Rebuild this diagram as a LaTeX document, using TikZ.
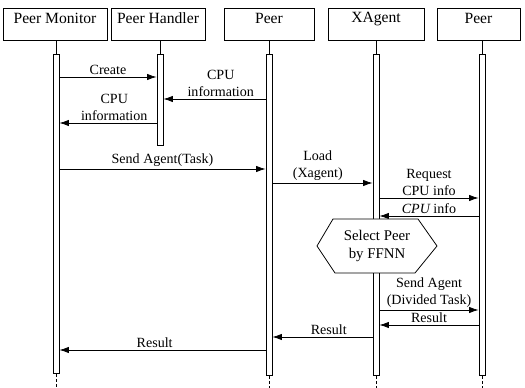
\documentclass[tikz,border=0pt]{standalone}
\usepackage{fontspec}
\setmainfont{Liberation Serif}
\usetikzlibrary{positioning,calc,arrows.meta,fit}

\begin{document}
\begin{tikzpicture}[x=0.0225cm,y=-0.0225cm,
  actor/.style={draw,line width=0.6pt,inner sep=0pt,font=\fontsize{10}{12}\selectfont},
  bar/.style={draw,fill=white,line width=0.5pt,inner sep=0pt},
  life/.style={line width=0.5pt},
  msg/.style={line width=0.5pt,-{Latex[length=6pt,width=4pt]}},
  lbl/.style={font=\fontsize{9}{10.5}\selectfont,align=center,inner sep=1.5pt}]
\useasboundingbox (0,0) rectangle (525,388);
\coordinate (floor) at (0,388);
% ACTORS: header boxes
\node[actor,fit={(3,8) (107,40)}] (pm) {Peer Monitor};
\node[actor,fit={(111,8) (205,40)}] (ph) {Peer Handler};
\node[actor,fit={(224,8) (314,40)}] (peer) {Peer};
\node[actor,fit={(328,8) (424,40)}] (xagent) {XAgent};
\node[actor,fit={(437,8) (520,40)}] (peertwo) {Peer};
% ACTIVATION BARS
\node[bar,fit={(53,54) (59,373)}] (pmbar) {};
\node[bar,fit={(157,54) (163,145)}] (phbar) {};
\node[bar,fit={(266,54) (272,375)}] (peerbar) {};
\node[bar,fit={(373,54) (379,375)}] (xbar) {};
\node[bar,fit={(479,54) (485,375)}] (peertwobar) {};
% LIFELINES: solid above the bars, dashed below (the handler ends with its bar)
\foreach \b/\a in {pmbar/pm,phbar/ph,peerbar/peer,xbar/xagent,peertwobar/peertwo}
  \draw[life] (\b.north) -- (\b.north |- \a.south);
\foreach \b in {pmbar,peerbar,xbar,peertwobar}
  \draw[life,dash pattern=on 2pt off 1.5pt] (\b.south) -- (\b.south |- floor);
% MESSAGES: discovery of CPU information
\draw[msg] (pmbar.east |- 0,77) -- (phbar.west |- 0,77) node[lbl,midway,above] {Create};
\draw[msg] (peerbar.west |- 0,99) -- (phbar.east |- 0,99) node[lbl,midway,above,xshift=4] {CPU\\information};
\draw[msg] (phbar.west |- 0,123) -- (pmbar.east |- 0,123) node[lbl,midway,above,xshift=4] {CPU\\information};
% MESSAGES: agent dispatch
\draw[msg] (pmbar.east |- 0,169) -- (peerbar.west |- 0,169) node[lbl,midway,above] {Send Agent(Task)};
\draw[msg] (peerbar.east |- 0,183) -- (xbar.west |- 0,183) node[lbl,midway,above,xshift=-3] {Load\\(Xagent)};
\draw[msg] (xbar.east |- 0,198) -- (peertwobar.west |- 0,198) node[lbl,midway,above] {Request\\CPU info};
\draw[msg] (peertwobar.west |- 0,216) -- (xbar.east |- 0,216) node[lbl,midway,above] {{\itshape CPU} info};
% DECISION: hexagon over the XAgent bar
\draw[line width=0.5pt,fill=white] (317,246) -- (333,219) -- (418,219) -- (437,246) -- (415,273) -- (335,273) -- cycle;
\node[lbl,font=\fontsize{9.5}{12}\selectfont] (select) at (377,246) {Select Peer\\by FFNN};
% MESSAGES: divided task and results
\draw[msg] (xbar.east |- 0,310) -- (peertwobar.west |- 0,310) node[lbl,midway,above] {Send Agent\\(Divided Task)};
\draw[msg] (peertwobar.west |- 0,325) -- (xbar.east |- 0,325) node[lbl,midway,above] {Result};
\draw[msg] (xbar.west |- 0,337) -- (peerbar.east |- 0,337) node[lbl,midway,above,xshift=4] {Result};
\draw[msg] (peerbar.west |- 0,350) -- (pmbar.east |- 0,350) node[lbl,midway,above,xshift=-5] {Result};
\end{tikzpicture}
\end{document}
